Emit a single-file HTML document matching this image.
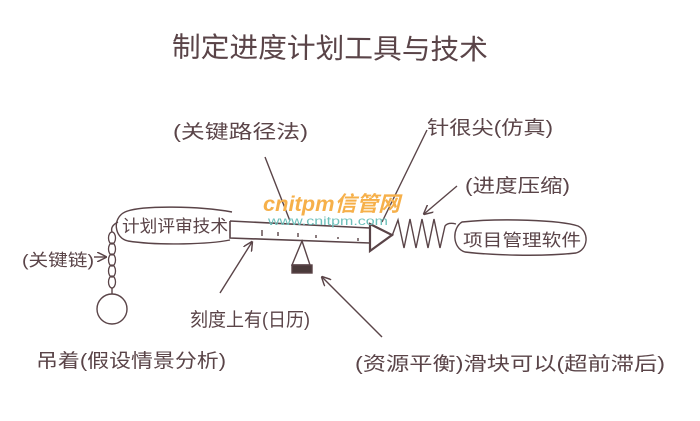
<!DOCTYPE html>
<html><head><meta charset="utf-8">
<style>
html,body{margin:0;padding:0;background:#fff;}
svg{display:block}
text{font-family:"Liberation Sans","Noto Sans CJK SC",sans-serif;fill:#5a4448;}
</style></head>
<body>
<svg width="700" height="421" viewBox="0 0 700 421" xmlns="http://www.w3.org/2000/svg">
<defs>
<marker id="ah" viewBox="0 0 10 10" refX="9" refY="5" markerWidth="7" markerHeight="7" orient="auto">
<path d="M0,0 L10,5 L0,10" fill="none" stroke="#5a4448" stroke-width="1.5"/>
</marker>
</defs>
<g stroke="#5a4448" fill="none" stroke-width="1.4">
<!-- title -->
</g>
<text x="172" y="58" font-size="28" textLength="316" lengthAdjust="spacingAndGlyphs" transform="rotate(0.5 330 45)">制定进度计划工具与技术</text>

<text x="173" y="138" font-size="19" textLength="135" lengthAdjust="spacingAndGlyphs">(关键路径法)</text>
<text x="427" y="134" font-size="19" textLength="126" lengthAdjust="spacingAndGlyphs">针很尖(仿真)</text>
<text x="465" y="192" font-size="19" textLength="105" lengthAdjust="spacingAndGlyphs">(进度压缩)</text>

<g stroke="#5a4448" fill="none" stroke-width="1.4">
<line x1="265" y1="157" x2="290" y2="221"/>
<line x1="427" y1="130" x2="382" y2="222"/>
<line x1="457" y1="186" x2="424" y2="214" marker-end="url(#ah)"/>
<!-- left pill -->
<path d="M232,212 C200,206 140,205 125,212 C112,218 114,238 128,241 C160,246 210,244 230,240"/>
<!-- bar -->
<path d="M230,221 L370,228 M230,221 L230,238 L370,243" stroke-width="1.6"/>
<path d="M262,230v6 M278,232v4 M298,233v4 M316,235v3 M338,237v2 M358,238v3"/>
<!-- triangle -->
<path d="M370,224 L370,251 L392,235 Z" stroke-width="2.2"/>
<!-- spring -->
<path d="M392,236 L398,220 L404,248 L410,219 L416,248 L422,219 L428,248 L434,219 L440,248 L445,226 Q448,222 456,224"/>
<!-- right pill -->
<path d="M462,222 C500,218 560,220 578,226 C590,232 588,250 576,253 C540,257 490,255 465,252 C452,248 452,228 462,222 Z"/>
<!-- weight -->
<path d="M302,241 L292,265 L310,265 Z"/>
<rect x="292" y="265" width="20" height="8" fill="#4a3a3a"/>
<!-- chain -->
<path d="M118,222 Q110,226 112,232"/>
<g stroke-width="1.3">
<ellipse cx="112" cy="238" rx="3.5" ry="6"/>
<ellipse cx="112" cy="249" rx="3.5" ry="6"/>
<ellipse cx="112" cy="260" rx="3.5" ry="6"/>
<ellipse cx="112" cy="271" rx="3.5" ry="6"/>
<ellipse cx="112" cy="282" rx="3.5" ry="6"/>
</g>
<line x1="112" y1="288" x2="112" y2="294"/>
<circle cx="112" cy="309" r="15"/>
<line x1="94" y1="257" x2="106" y2="257" marker-end="url(#ah)"/>
<!-- arrows lower -->
<line x1="220" y1="293" x2="252" y2="242" marker-end="url(#ah)"/>
<line x1="382" y1="337" x2="322" y2="277" marker-end="url(#ah)"/>
</g>

<text x="122" y="232" font-size="17" textLength="106" lengthAdjust="spacingAndGlyphs">计划评审技术</text>
<text x="463" y="246" font-size="17" textLength="118" lengthAdjust="spacingAndGlyphs">项目管理软件</text>
<text x="22" y="266" font-size="17" textLength="72" lengthAdjust="spacingAndGlyphs">(关键链)</text>
<text x="190" y="326" font-size="19" textLength="120" lengthAdjust="spacingAndGlyphs">刻度上有(日历)</text>
<text x="36" y="367" font-size="19" textLength="190" lengthAdjust="spacingAndGlyphs">吊着(假设情景分析)</text>
<text x="355" y="370" font-size="19" textLength="310" lengthAdjust="spacingAndGlyphs">(资源平衡)滑块可以(超前滞后)</text>

<!-- watermark -->
<text x="263" y="211" font-size="21" font-weight="bold" font-style="italic" style="fill:#f6b04a" textLength="137" lengthAdjust="spacingAndGlyphs">cnitpm信管网</text>
<text x="268" y="225" font-size="12" style="fill:#6ec0bb" textLength="120" lengthAdjust="spacingAndGlyphs">www.cnitpm.com</text>
</svg>
</body></html>
